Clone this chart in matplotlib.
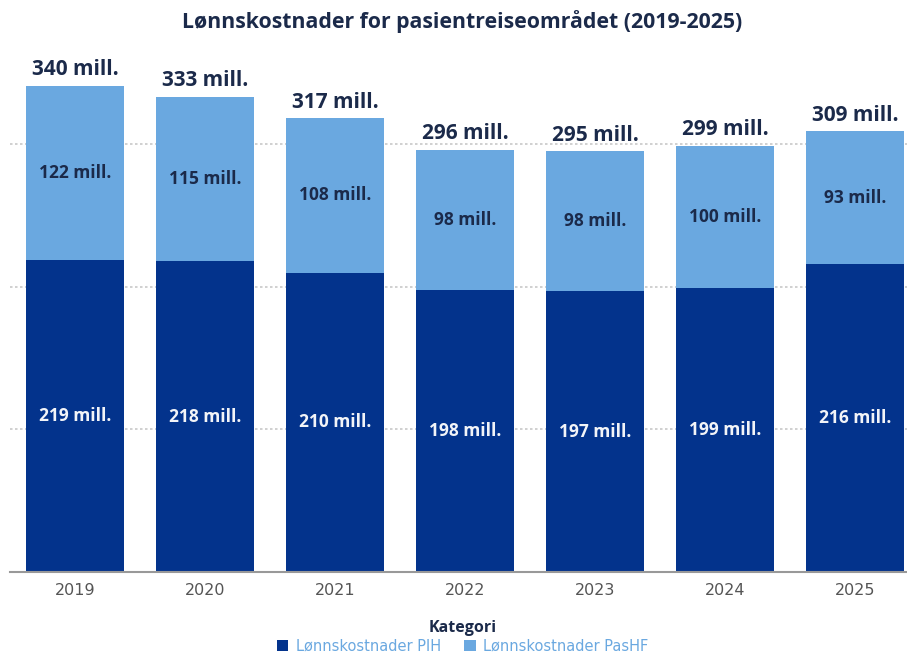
import matplotlib
matplotlib.use("Agg")
import matplotlib.pyplot as plt
from matplotlib.patches import Patch

years = ["2019", "2020", "2021", "2022", "2023", "2024", "2025"]
pih = [219, 218, 210, 198, 197, 199, 216]
pashf = [122, 115, 108, 98, 98, 100, 93]
totals = [340, 333, 317, 296, 295, 299, 309]
series_names = ["Lønnskostnader PIH", "Lønnskostnader PasHF"]

dark = "#03338c"
light = "#6aa8e0"
navy = "#1b2a4a"

plt.rcParams['font.family'] = ['Open Sans', 'DejaVu Sans']

fig = plt.figure(figsize=(9.07, 6.58), dpi=100)
ax = fig.add_axes([10/907, (658-572)/658, 897/907, 512/658])

x = list(range(len(years)))
w = 0.76
ax.bar(x, pih, width=w, color=dark, zorder=2)
ax.bar(x, pashf, width=w, bottom=pih, color=light, zorder=2)

for i in x:
    ax.text(i, pih[i] / 2, f"{pih[i]} mill.", ha="center", va="center",
            color="#f2f4f8", fontsize=12.5, fontweight="bold", zorder=3)
    ax.text(i, pih[i] + pashf[i] / 2, f"{pashf[i]} mill.", ha="center", va="center",
            color=navy, fontsize=12.5, fontweight="bold", zorder=3)
    ax.text(i, pih[i] + pashf[i] + 4, f"{totals[i]} mill.", ha="center", va="bottom",
            color=navy, fontsize=15, fontweight="bold", zorder=3)

ax.set_xlim(-0.5, 6.4)
ax.set_ylim(0, 359)
ax.set_yticks([100, 200, 300])
ax.yaxis.grid(True, linestyle=(0, (1.5, 1.5)), color="#c8c8c8", linewidth=1.2, zorder=0)
ax.tick_params(axis="y", left=False, labelleft=False)
ax.set_xticks(x)
ax.set_xticklabels(years, fontsize=11.5, color="#555555", family="DejaVu Sans")
ax.tick_params(axis="x", length=0, pad=8)
for s in ["top", "right", "left"]:
    ax.spines[s].set_visible(False)
ax.spines["bottom"].set_color("#999999")
ax.spines["bottom"].set_linewidth(1.5)

fig.text(0.51, 1 - 22/658, "Lønnskostnader for pasientreiseområdet (2019-2025)",
         ha="center", va="center", fontsize=15.3, fontweight="bold", color=navy)

handles = [Patch(facecolor=dark), Patch(facecolor=light)]
leg = fig.legend(handles, series_names, loc="center", bbox_to_anchor=(0.51, 1 - 637/658),
                 ncol=2, frameon=False, title="Kategori",
                 prop={"family": "DejaVu Sans", "size": 10.5},
                 handlelength=0.8, handleheight=0.8, handletextpad=0.5, columnspacing=1.6,
                 borderpad=0, labelspacing=0.2)
leg.get_title().set_fontweight("bold")
leg.get_title().set_color(navy)
leg.get_title().set_fontsize(11.5)
leg.get_title().set_family("Open Sans")
for t in leg.get_texts():
    t.set_color(light)

fig.savefig("out.png", dpi=100)
